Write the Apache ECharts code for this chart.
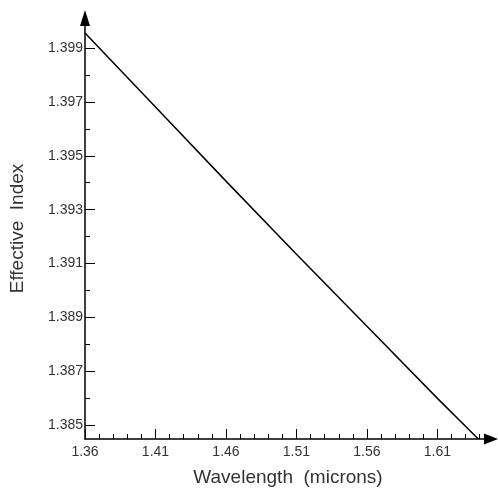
<!DOCTYPE html>
<html>
<head>
<meta charset="utf-8">
<script src="https://cdn.jsdelivr.net/npm/echarts@6/dist/echarts.min.js"></script>
<style>
  html, body { margin: 0; padding: 0; background: #fff; }
  #chart { width: 498px; height: 494px; }
</style>
</head>
<body>
<div id="chart"></div>
<script>
// values
const wavelength = [1.36, 1.41, 1.46, 1.51, 1.56, 1.61, 1.639]
const effIndex = [1.39956, 1.39681, 1.39406, 1.39134, 1.38867, 1.38599, 1.38448]

// tick labels
const xMajor = [1.36, 1.41, 1.46, 1.51, 1.56, 1.61]
const xMinor = [1.37, 1.38, 1.39, 1.40, 1.42, 1.43, 1.44, 1.45, 1.47, 1.48, 1.49, 1.50,
  1.52, 1.53, 1.54, 1.55, 1.57, 1.58, 1.59, 1.60, 1.62, 1.63, 1.64]
const yMajor = [1.385, 1.387, 1.389, 1.391, 1.393, 1.395, 1.397, 1.399]
const yMinor = [1.386, 1.388, 1.390, 1.392, 1.394, 1.396, 1.398]

const X_MIN = 1.36, X_MAX = 1.648
const Y_MIN = 1.38448, Y_MAX = 1.40012

const font = 'Liberation Sans, Arial, sans-serif'

const chart = echarts.init(document.getElementById('chart'))

chart.setOption({
  animation: false,
  grid: { left: 85, right: 7, top: 18, bottom: 55 },
  xAxis: [
    {
      type: 'value',
      min: X_MIN,
      max: X_MAX,
      name: 'Wavelength  (microns)',
      nameLocation: 'middle',
      nameGap: 29,
      nameTextStyle: { fontFamily: font, fontSize: 19, color: '#333' },
      axisLine: {
        show: true,
        symbol: ['none', 'triangle'],
        symbolSize: [11, 14],
        lineStyle: { color: '#000', width: 1.5 }
      },
      axisTick: { show: true, inside: true, length: 10, customValues: xMajor, lineStyle: { color: '#000' } },
      axisLabel: {
        customValues: xMajor,
        formatter: v => v.toFixed(2),
        fontFamily: font, fontSize: 14, color: '#333', margin: 6
      },
      splitLine: { show: false }
    },
    {
      // minor ticks only
      type: 'value',
      min: X_MIN,
      max: X_MAX,
      position: 'bottom',
      axisLine: { show: false },
      axisTick: { show: true, inside: true, length: 5, customValues: xMinor, lineStyle: { color: '#000' } },
      axisLabel: { show: false },
      splitLine: { show: false }
    }
  ],
  yAxis: [
    {
      type: 'value',
      min: Y_MIN,
      max: Y_MAX,
      name: 'Effective  Index',
      nameLocation: 'middle',
      nameGap: 58,
      nameTextStyle: { fontFamily: font, fontSize: 19, color: '#333' },
      axisLine: {
        show: true,
        symbol: ['none', 'triangle'],
        symbolSize: [10, 16],
        lineStyle: { color: '#000', width: 1.5 }
      },
      axisTick: { show: true, inside: true, length: 10, customValues: yMajor, lineStyle: { color: '#000' } },
      axisLabel: {
        customValues: yMajor,
        formatter: v => v.toFixed(3),
        fontFamily: font, fontSize: 14, color: '#333', margin: 2
      },
      splitLine: { show: false }
    },
    {
      type: 'value',
      min: Y_MIN,
      max: Y_MAX,
      position: 'left',
      axisLine: { show: false },
      axisTick: { show: true, inside: true, length: 5, customValues: yMinor, lineStyle: { color: '#000' } },
      axisLabel: { show: false },
      splitLine: { show: false }
    }
  ],
  series: [{
    type: 'line',
    xAxisIndex: 0,
    yAxisIndex: 0,
    data: wavelength.map((w, i) => [w, effIndex[i]]),
    showSymbol: false,
    lineStyle: { color: '#000', width: 1.5 }
  }]
})
</script>
</body>
</html>
